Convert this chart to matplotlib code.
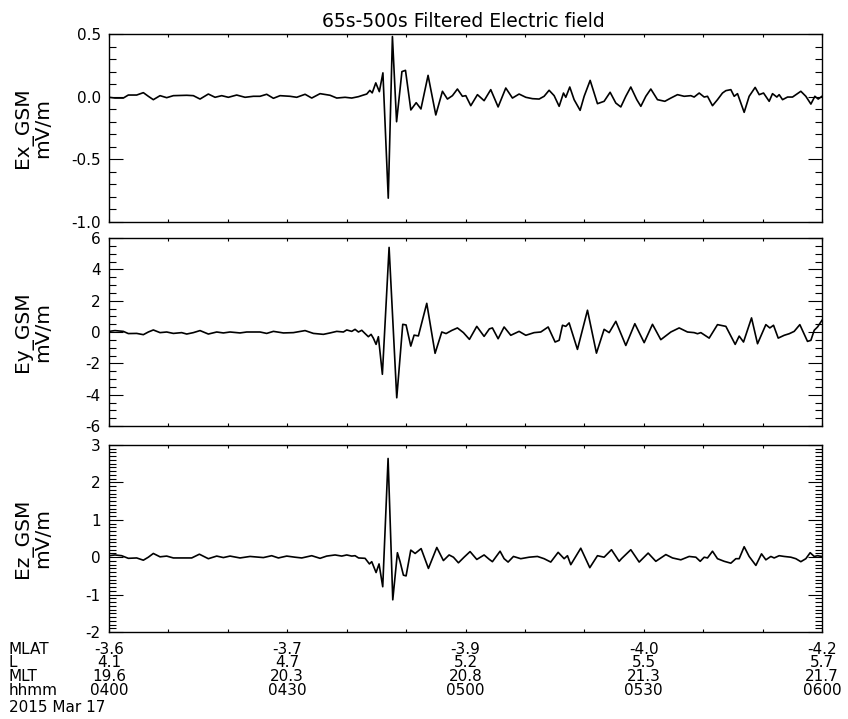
import matplotlib
matplotlib.use("Agg")
import matplotlib.pyplot as plt
import matplotlib.transforms as mtransforms
from matplotlib.ticker import MultipleLocator, FormatStrFormatter

plt.rcParams['font.family'] = ['DejaVu Sans']
plt.rcParams['axes.unicode_minus'] = False

# time axis: minutes after 0400 UT on 2015 Mar 17
ex_t = [0, 1.01, 2.41, 3.25, 4.66, 5.78, 6.62, 7.46, 8.59, 9.71, 10.83, 13.08, 14.20,
        15.32, 16.72, 17.85, 18.97, 20.09, 21.49, 22.90, 24.30, 25.42, 26.54, 27.67,
        28.79, 30.47, 31.59, 33.00, 34.12, 35.52, 37.21, 38.33, 39.73, 40.85, 41.98,
        42.82, 43.38, 43.9, 44.3, 44.9, 45.5, 46.1, 47.0, 47.7, 48.4, 49.3, 49.9, 50.8,
        51.7, 52.5, 53.7, 55.0, 56.12, 56.96, 57.80, 58.64, 59.48, 60.05, 60.89, 62.01,
        63.13, 64.25, 65.49, 66.78, 67.90, 69.02, 70.15, 71.27, 72.39, 73.23, 74.07,
        74.92, 75.76, 76.49, 76.88, 77.55, 78.28, 79.29, 79.97, 80.98, 81.65, 82.21,
        83.33, 84.34, 85.30, 86.14, 86.98, 87.82, 88.83, 89.51, 90.35, 91.19, 92.31,
        93.55, 94.56, 95.68, 96.80, 97.92, 98.48, 99.33, 100.17, 100.73, 101.57, 102.41,
        103.25, 103.82, 104.66, 105.22, 105.78, 106.90, 107.74, 108.75, 109.43, 110.16,
        111.11, 111.67, 112.40, 112.79, 113.36, 114.20, 115.04, 116.44, 117.28, 118.13,
        118.80, 119.36, 120.0]
ex_v = [-0.005, -0.011, -0.011, 0.013, 0.013, 0.032, 0.003, -0.024, 0.008, -0.008, 0.008,
        0.011, 0.008, -0.019, 0.021, -0.005, 0.008, -0.005, 0.013, -0.005, 0.003, 0.003,
        0.019, -0.013, 0.008, 0.003, -0.005, 0.019, -0.011, 0.024, 0.011, -0.011, -0.005,
        -0.011, 0.0, 0.013, 0.021, 0.05, 0.03, 0.11, 0.04, 0.19, -0.81, 0.48, -0.2, 0.2,
        0.21, -0.106, -0.048, -0.098, 0.17, -0.146, 0.043, -0.019, 0.008, 0.061, 0.003,
        0.008, -0.072, 0.016, -0.032, 0.056, -0.082, 0.069, -0.011, 0.021, -0.005, -0.016,
        -0.019, 0.003, 0.051, 0.008, -0.077, 0.029, -0.005, 0.077, -0.024, -0.109, 0.003,
        0.13, 0.029, -0.056, -0.037, 0.035, -0.051, -0.082, 0.003, 0.077, -0.024, -0.077,
        0.003, 0.061, -0.024, -0.037, -0.011, 0.016, 0.003, 0.008, -0.003, 0.029, -0.003,
        0.003, -0.072, -0.024, 0.029, 0.048, 0.056, 0.003, 0.024, -0.125, 0.003, 0.074,
        0.016, 0.029, -0.037, 0.024, -0.003, 0.016, -0.024, -0.003, -0.003, 0.043, 0.003,
        -0.059, 0.003, -0.019, 0.003]

ey_t = [0, 1.01, 2.41, 3.25, 4.66, 5.78, 6.62, 7.46, 8.59, 9.71, 10.83, 12.23, 13.08,
        14.20, 15.32, 16.72, 18.13, 19.25, 20.37, 22.05, 23.18, 25.42, 26.54, 27.67,
        29.35, 31.03, 33.00, 34.40, 36.08, 37.21, 38.33, 39.45, 40.01, 40.85, 41.41,
        41.98, 42.54, 43.10, 43.65, 44.11, 44.50, 44.95, 45.34, 46.01, 47.14, 48.43,
        49.44, 50.0, 50.79, 51.35, 52.07, 53.48, 54.88, 56.01, 56.73, 57.69, 58.64,
        59.65, 60.66, 61.90, 63.13, 64.02, 64.53, 65.49, 66.50, 67.62, 69.02, 70.15,
        71.55, 72.67, 73.91, 75.08, 75.76, 76.32, 76.88, 77.44, 78.84, 80.53, 82.04,
        83.33, 84.18, 85.30, 86.98, 88.50, 90.07, 91.47, 92.87, 94.56, 95.96, 97.36,
        98.48, 99.05, 99.61, 101.01, 102.41, 103.82, 105.39, 106.06, 106.79, 108.14,
        109.15, 110.55, 111.22, 111.84, 112.63, 113.64, 114.48, 115.32, 116.27, 117.56,
        118.13, 118.69, 119.25, 120.0]
ey_v = [0.04, 0.09, 0.04, -0.1, -0.09, -0.17, 0, 0.13, -0.04, 0, -0.09, -0.04, -0.13,
        -0.04, 0.09, -0.13, 0, -0.06, 0, -0.06, 0, 0, -0.09, 0.04, -0.06, -0.04, 0.09,
        -0.09, -0.15, -0.06, 0.04, 0, 0.13, 0.04, 0.17, 0, 0.11, -0.1, -0.3, -0.15, -0.4,
        -0.79, -0.3, -2.7, 5.4, -4.2, 0.49, 0.45, -0.9, -0.2, -0.25, 1.83, -1.36, 0.0,
        -0.1, 0.1, 0.26, -0.04, -0.47, 0.36, -0.28, 0.2, 0.26, -0.43, 0.32, -0.21, 0.04,
        -0.21, -0.04, 0, 0.32, -0.64, -0.53, 0.43, 0.36, 0.58, -1.11, 1.39, -1.35, 0.17,
        -0.04, 0.68, -0.86, 0.53, -0.68, 0.49, -0.49, 0, 0.26, 0, -0.04, -0.11, -0.04,
        -0.39, 0.47, 0.36, -0.79, -0.26, -0.64, 0.9, -0.75, 0.47, 0.26, 0.43, -0.39,
        -0.21, -0.11, 0.04, 0.47, -0.6, -0.53, 0.11, 0.32, 0.75]

ez_t = [0, 1.01, 2.13, 3.25, 4.66, 5.78, 6.62, 7.46, 8.59, 9.71, 10.83, 12.23, 13.92,
        15.21, 16.72, 18.13, 19.25, 20.37, 22.05, 23.74, 25.98, 27.38, 28.51, 29.91,
        31.31, 32.44, 34.12, 35.52, 36.64, 38.05, 39.17, 40.01, 40.85, 41.41, 42.0,
        43.10, 43.83, 44.22, 44.95, 45.45, 46.07, 46.97, 47.76, 48.54, 48.99, 49.55,
        50.0, 50.79, 51.52, 52.53, 53.76, 55.17, 56.28, 57.24, 57.97, 58.81, 59.76,
        60.77, 61.90, 63.13, 64.02, 64.53, 65.82, 66.50, 67.17, 68.07, 69.30, 70.71,
        72.11, 73.23, 74.35, 75.59, 76.60, 77.16, 77.72, 79.40, 80.92, 82.21, 83.33,
        84.57, 85.86, 86.25, 87.82, 89.23, 90.74, 92.03, 93.72, 94.84, 96.24, 97.64,
        98.77, 99.50, 100.17, 100.73, 101.57, 102.41, 103.54, 104.66, 105.50, 106.06,
        106.90, 107.74, 108.87, 109.82, 110.55, 111.39, 111.95, 112.79, 113.64, 114.76,
        115.60, 116.44, 117.28, 118.01, 118.69, 119.25, 120.0]
ez_v = [0.04, 0.06, 0.04, -0.03, -0.02, -0.08, 0, 0.1, 0.01, 0.03, -0.02, -0.02, -0.02,
        0.08, -0.04, 0.03, -0.01, 0.03, -0.02, 0.02, -0.01, 0.04, -0.02, 0.03, 0, -0.02,
        0.04, -0.03, 0.03, 0.06, 0.03, 0.06, 0.03, 0.04, -0.02, -0.03, -0.18, -0.12,
        -0.41, -0.18, -0.79, 2.64, -1.14, 0.12, -0.12, -0.48, -0.5, 0.19, 0.1, 0.23, -0.3,
        0.26, -0.09, 0.06, 0, -0.15, 0, 0.15, -0.06, 0.06, -0.06, -0.12, 0.16, -0.04,
        -0.13, 0.02, -0.04, 0, 0.02, -0.04, -0.13, 0.13, -0.04, 0.04, -0.2, 0.24, -0.28,
        0.04, 0, 0.2, -0.11, -0.04, 0.2, -0.13, 0.11, -0.11, 0.07, -0.02, -0.07, 0.02, 0,
        -0.11, 0, -0.02, 0.16, -0.04, -0.11, -0.16, -0.04, -0.04, 0.28, 0.02, -0.22, 0.09,
        -0.07, 0.02, -0.02, 0.04, 0.02, 0, -0.04, -0.12, -0.04, 0.12, 0.02, 0.04, 0.02]

# orbit annotation under the bottom panel
tick_min = [0, 30, 60, 90, 120]
mlat = ['-3.6', '-3.7', '-3.9', '-4.0', '-4.2']
lshell = ['4.1', '4.7', '5.2', '5.5', '5.7']
mlt = ['19.6', '20.3', '20.8', '21.3', '21.7']
hhmm = ['0400', '0430', '0500', '0530', '0600']
row_names = ['MLAT', 'L', 'MLT', 'hhmm']
date_str = '2015 Mar 17'
title = '65s-500s Filtered Electric field'

W, H = 848, 719
fig = plt.figure(figsize=(W / 100, H / 100), dpi=100)


def px_axes(top, bottom, left=109, right=822):
    return fig.add_axes([left / W, 1 - bottom / H, (right - left) / W, (bottom - top) / H])


def setup_panel(ax, t, v, label, ylim, major, minor, fmt):
    ax.plot(t, v, color='black', lw=1.2, solid_joinstyle='round')
    ax.set_xlim(0, 120)
    ax.set_ylim(*ylim)
    ax.xaxis.set_major_locator(MultipleLocator(30))
    ax.xaxis.set_minor_locator(MultipleLocator(10))
    ax.yaxis.set_major_locator(MultipleLocator(major))
    ax.yaxis.set_minor_locator(MultipleLocator(minor))
    ax.yaxis.set_major_formatter(FormatStrFormatter(fmt))
    ax.tick_params(axis='x', which='both', direction='in', length=2.5, width=0.8,
                   top=True, bottom=True, labelbottom=False)
    ax.tick_params(axis='y', which='major', direction='in', length=10, width=0.8,
                   left=True, right=True, labelsize=11, pad=6)
    ax.tick_params(axis='y', which='minor', direction='in', length=5, width=0.8,
                   left=True, right=True)
    for sp in ax.spines.values():
        sp.set_linewidth(1.0)
    ax.text(-0.106, 0.5, label, transform=ax.transAxes, rotation=90, ha='center',
            va='center', fontsize=14.5, linespacing=1.0, multialignment='center')


ax1 = px_axes(34, 222)
setup_panel(ax1, ex_t, ex_v, 'Ex_GSM\nmV/m', (-1.0, 0.5), 0.5, 0.1, '%.1f')
ax2 = px_axes(238, 426)
setup_panel(ax2, ey_t, ey_v, 'Ey_GSM\nmV/m', (-6, 6), 2, 0.5, '%d')
ax3 = px_axes(445, 632)
setup_panel(ax3, ez_t, ez_v, 'Ez_GSM\nmV/m', (-2, 3), 1, 0.1, '%d')

fig.text(463.5 / W, 1 - 27 / H, title, ha='center', va='baseline', fontsize=13.5)

# annotation block: one multi-line text per tick column
trans = mtransforms.blended_transform_factory(ax3.transData, fig.transFigure)
top_y = 1 - 641.5 / H
for i, tm in enumerate(tick_min):
    col = '\n'.join([mlat[i], lshell[i], mlt[i], hhmm[i]])
    ax3.text(tm, top_y, col, transform=trans, ha='center', va='top',
             multialignment='center', fontsize=11, linespacing=0.9)
fig.text(9 / W, top_y, '\n'.join(row_names), ha='left', va='top',
         multialignment='left', fontsize=11, linespacing=0.9)
fig.text(9 / W, 1 - 712 / H, date_str, ha='left', va='baseline', fontsize=11)

fig.savefig('out.png', dpi=100)
